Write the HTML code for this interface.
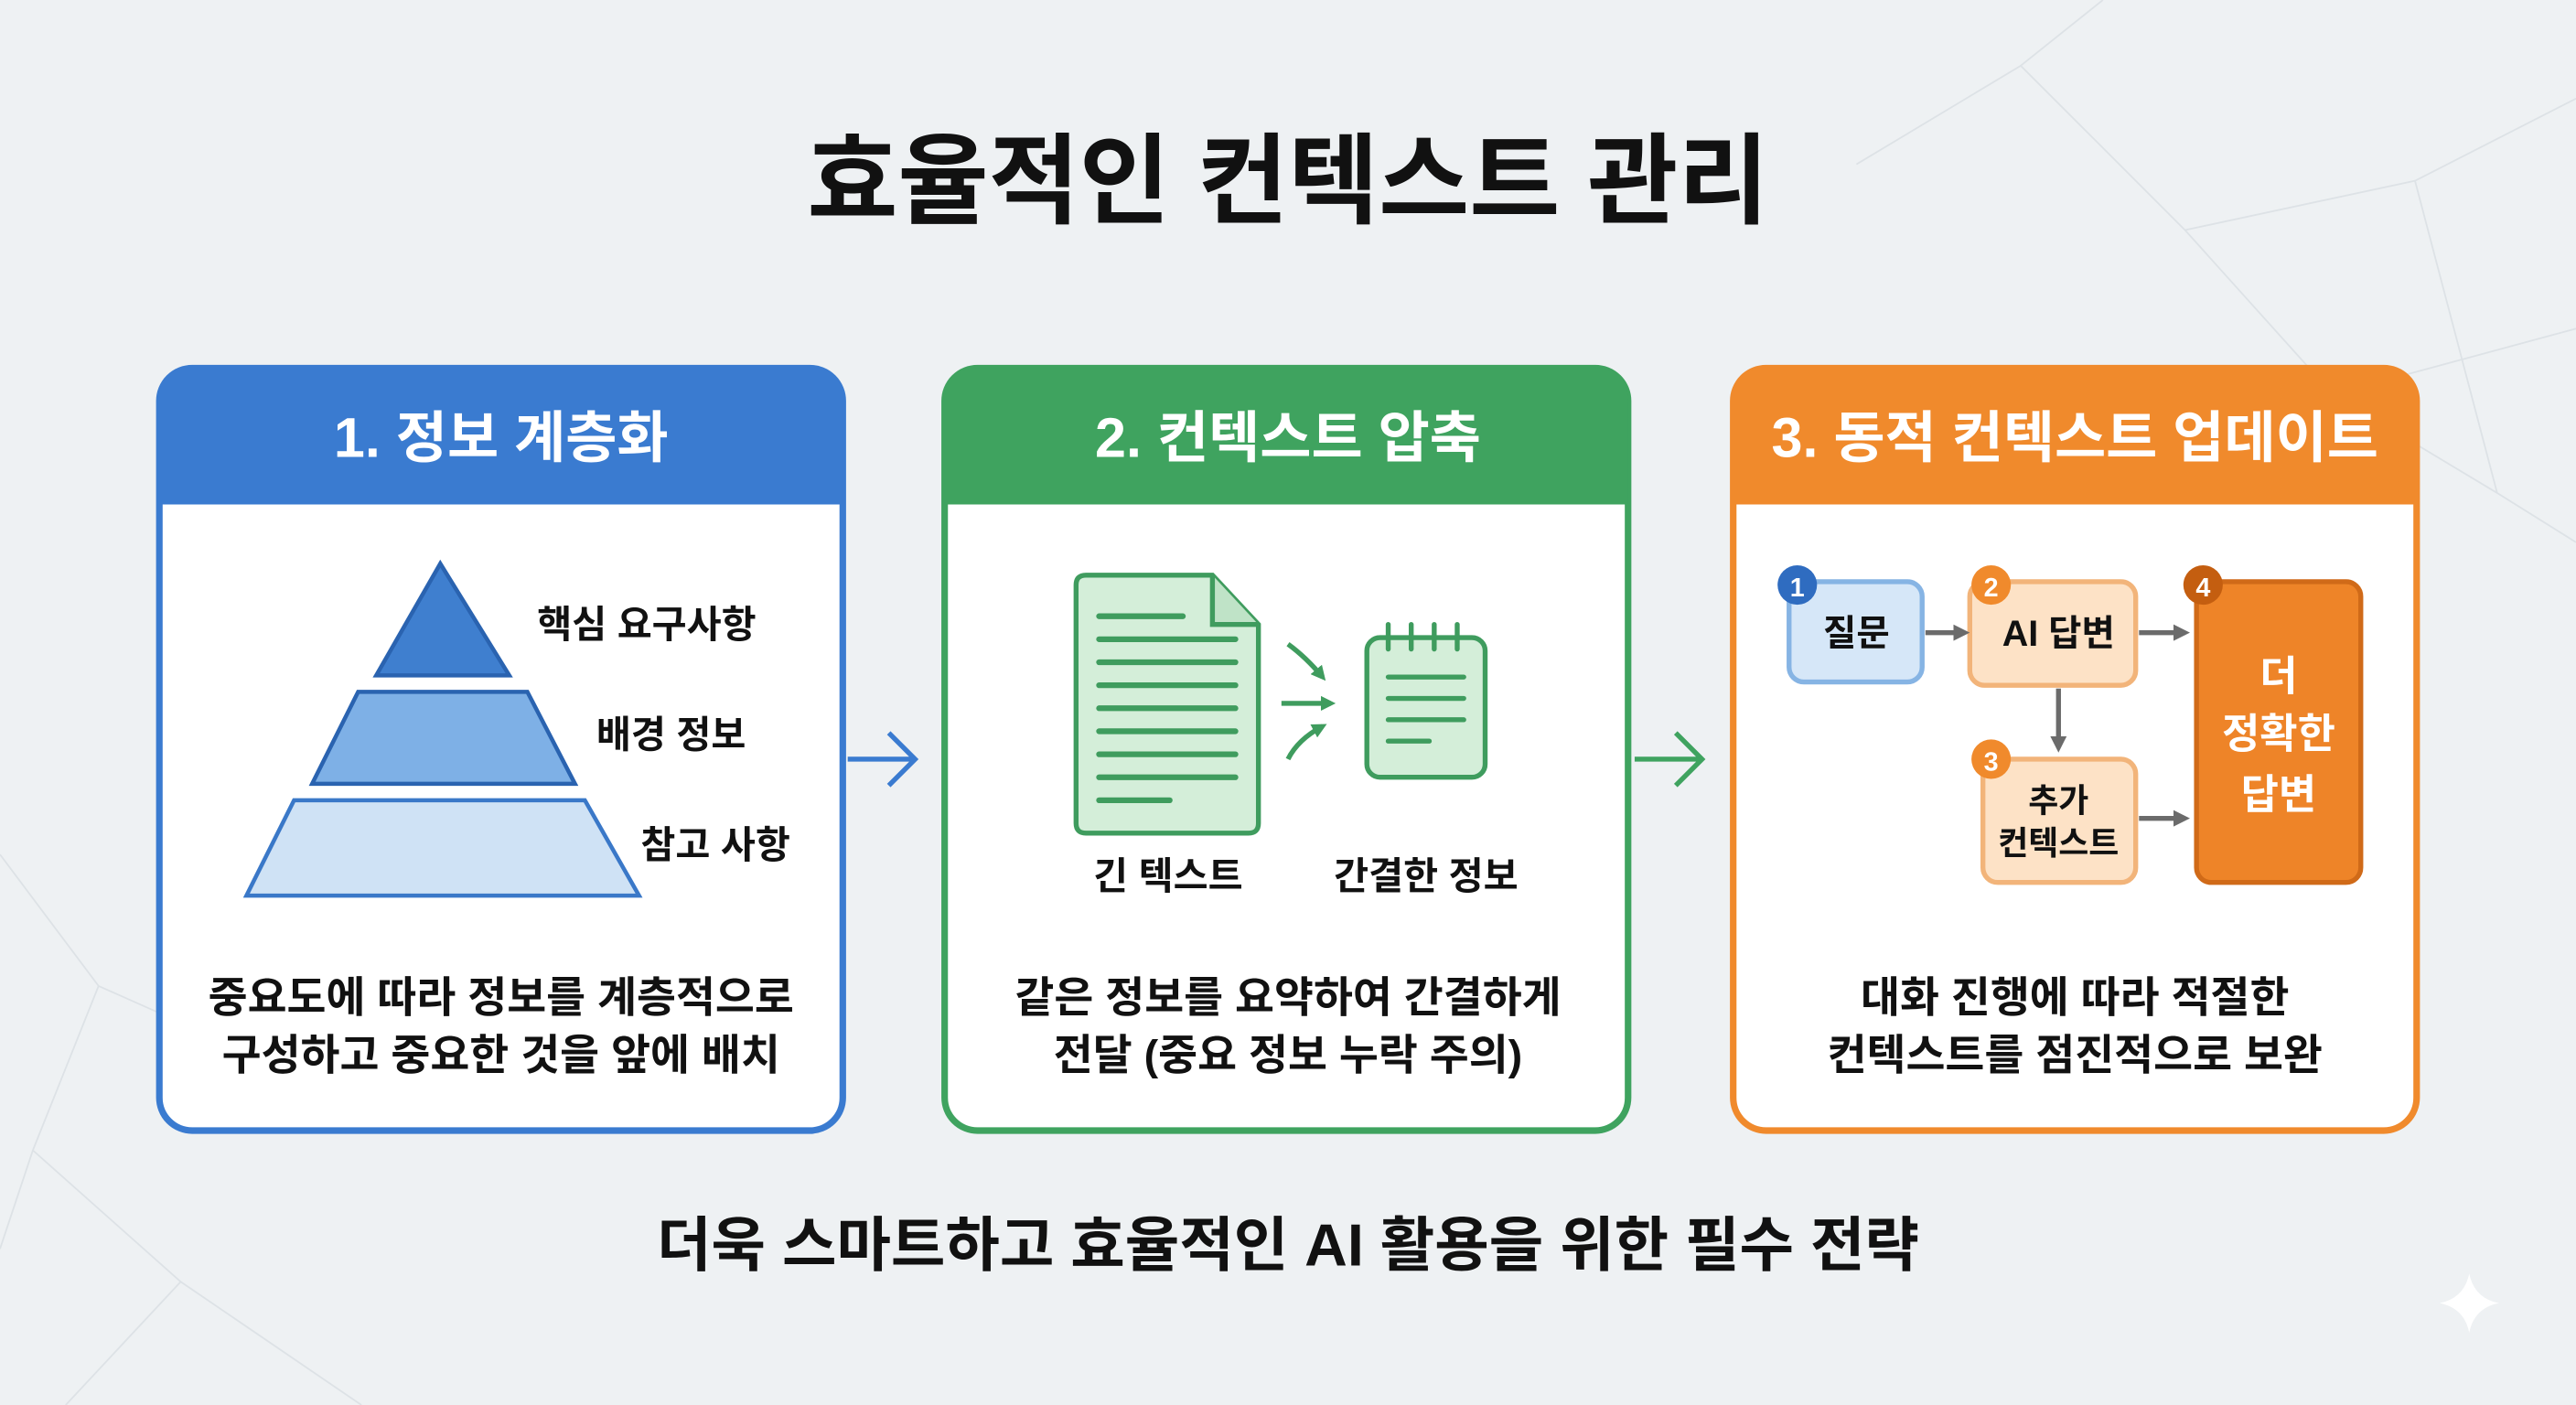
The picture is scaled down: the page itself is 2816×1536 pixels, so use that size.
<!DOCTYPE html>
<html><head><meta charset="utf-8"><style>
html,body{margin:0;padding:0;background:#eef1f3;}
svg{display:block;}
text{font-family:"Liberation Sans","Noto Sans CJK KR",sans-serif;font-weight:bold;}
</style></head><body>
<svg width="2816" height="1536" viewBox="0 0 1568 855" preserveAspectRatio="none" xmlns="http://www.w3.org/2000/svg">
<defs>
<marker id="ag" markerWidth="10" markerHeight="10" refX="7" refY="5" orient="auto" markerUnits="userSpaceOnUse"><path d="M0,0 L10,5 L0,10 z" fill="#6b6b6b"/></marker>
<marker id="agr" markerWidth="9" markerHeight="9" refX="6" refY="4.5" orient="auto" markerUnits="userSpaceOnUse"><path d="M0,0 L9,4.5 L0,9 z" fill="#3f9c5e"/></marker>
</defs>
<rect width="1568" height="855" fill="#eef1f3"/>
<g stroke="#dde2e6" stroke-width="1" fill="none">
<path d="M1130,100 L1230,40 L1330,140 L1470,110 L1568,60 M1230,40 L1280,0 M1330,140 L1420,240 L1568,200 M1470,110 L1520,300 L1568,330 M1420,240 L1520,300"/>
<path d="M0,520 L60,600 L20,700 L110,780 L220,855 M60,600 L150,640 M20,700 L0,760 M110,780 L40,855"/>
</g>
<text x="784" y="131" text-anchor="middle" font-size="60" fill="#111">효율적인 컨텍스트 관리</text>

<!-- Card 1 -->
<rect x="97" y="224" width="416" height="464" rx="20" fill="#fff" stroke="#3a7bd0" stroke-width="4"/>
<path d="M97,307 L97,244 Q97,224 117,224 L493,224 Q513,224 513,244 L513,307 z" fill="#3a7bd0"/>
<text x="305" y="278" text-anchor="middle" font-size="34" fill="#fff">1. 정보 계층화</text>
<polygon points="268,343 310,411 229,411" fill="#3f7fcf" stroke="#2a63b0" stroke-width="2.5"/>
<polygon points="218,421 321,421 350,477 190,477" fill="#7eb0e6" stroke="#2a63b0" stroke-width="2.5"/>
<polygon points="179,487 356,487 389,545 150,545" fill="#cfe2f5" stroke="#3a78c8" stroke-width="2.5"/>
<text x="327" y="388" font-size="23" fill="#111">핵심 요구사항</text>
<text x="363" y="455" font-size="23" fill="#111">배경 정보</text>
<text x="390" y="522" font-size="23" fill="#111">참고 사항</text>
<text x="305" y="616" text-anchor="middle" font-size="26" fill="#111">중요도에 따라 정보를 계층적으로</text>
<text x="305" y="651" text-anchor="middle" font-size="26" fill="#111">구성하고 중요한 것을 앞에 배치</text>

<path d="M516,462 L556,462 M541,446 L557,462 L541,478" stroke="#3a7bd0" stroke-width="3" fill="none"/>

<!-- Card 2 -->
<rect x="575" y="224" width="416" height="464" rx="20" fill="#fff" stroke="#3fa35f" stroke-width="4"/>
<path d="M575,307 L575,244 Q575,224 595,224 L971,224 Q991,224 991,244 L991,307 z" fill="#3fa35f"/>
<text x="784" y="278" text-anchor="middle" font-size="34" fill="#fff">2. 컨텍스트 압축</text>
<path d="M661,350 L738,350 L766,380 L766,501 Q766,507 760,507 L661,507 Q655,507 655,501 L655,356 Q655,350 661,350 z" fill="#d4eed9" stroke="#3f9c5e" stroke-width="3"/>
<path d="M738,350 L738,380 L766,380" fill="#bfe3c7" stroke="#3f9c5e" stroke-width="3"/>
<g stroke="#3f9c5e" stroke-width="3.5" stroke-linecap="round">
<line x1="669" y1="375" x2="720" y2="375"/><line x1="669" y1="389" x2="752" y2="389"/><line x1="669" y1="403" x2="752" y2="403"/><line x1="669" y1="417" x2="752" y2="417"/><line x1="669" y1="431" x2="752" y2="431"/><line x1="669" y1="445" x2="752" y2="445"/><line x1="669" y1="459" x2="752" y2="459"/><line x1="669" y1="473" x2="752" y2="473"/><line x1="669" y1="487" x2="712" y2="487"/>
</g>
<rect x="832" y="388" width="72" height="85" rx="8" fill="#d4eed9" stroke="#3f9c5e" stroke-width="3"/>
<g stroke="#3f9c5e" stroke-width="3" stroke-linecap="round">
<line x1="845" y1="380" x2="845" y2="395"/><line x1="859" y1="380" x2="859" y2="395"/><line x1="873" y1="380" x2="873" y2="395"/><line x1="887" y1="380" x2="887" y2="395"/>
<line x1="845" y1="412" x2="891" y2="412"/><line x1="845" y1="425" x2="891" y2="425"/><line x1="845" y1="438" x2="891" y2="438"/><line x1="845" y1="451" x2="870" y2="451"/>
</g>
<g stroke="#3f9c5e" stroke-width="3" fill="none">
<path d="M784,392 Q795,400 805,412" marker-end="url(#agr)"/>
<path d="M780,428 L810,428" marker-end="url(#agr)"/>
<path d="M784,462 Q790,450 805,442" marker-end="url(#agr)"/>
</g>
<text x="711" y="541" text-anchor="middle" font-size="23" fill="#111">긴 텍스트</text>
<text x="868" y="541" text-anchor="middle" font-size="23" fill="#111">간결한 정보</text>
<text x="784" y="616" text-anchor="middle" font-size="26" fill="#111">같은 정보를 요약하여 간결하게</text>
<text x="784" y="651" text-anchor="middle" font-size="26" fill="#111">전달 (중요 정보 누락 주의)</text>

<path d="M995,462 L1035,462 M1020,446 L1036,462 L1020,478" stroke="#3fa35f" stroke-width="3" fill="none"/>

<!-- Card 3 -->
<rect x="1055" y="224" width="416" height="464" rx="20" fill="#fff" stroke="#f08a2c" stroke-width="4"/>
<path d="M1055,307 L1055,244 Q1055,224 1075,224 L1451,224 Q1471,224 1471,244 L1471,307 z" fill="#f08a2c"/>
<text x="1263" y="278" text-anchor="middle" font-size="34" fill="#fff">3. 동적 컨텍스트 업데이트</text>
<rect x="1089" y="354" width="81" height="61" rx="9" fill="#d6e7f8" stroke="#86b4e4" stroke-width="3"/>
<text x="1130" y="393" text-anchor="middle" font-size="22" fill="#111">질문</text>
<rect x="1199" y="354" width="101" height="63" rx="9" fill="#fde2c6" stroke="#f2b47a" stroke-width="3"/>
<text x="1253" y="393" text-anchor="middle" font-size="22" fill="#111">AI 답변</text>
<rect x="1207" y="462" width="93" height="75" rx="9" fill="#fde2c6" stroke="#f2b47a" stroke-width="3"/>
<text x="1253" y="494" text-anchor="middle" font-size="20" fill="#111">추가</text>
<text x="1253" y="520" text-anchor="middle" font-size="20" fill="#111">컨텍스트</text>
<rect x="1337" y="354" width="100" height="183" rx="9" fill="#ee8428" stroke="#d06a18" stroke-width="3"/>
<text x="1387" y="420" text-anchor="middle" font-size="25" fill="#fff">더</text>
<text x="1387" y="455" text-anchor="middle" font-size="25" fill="#fff">정확한</text>
<text x="1387" y="492" text-anchor="middle" font-size="25" fill="#fff">답변</text>
<g stroke="#6b6b6b" stroke-width="3">
<line x1="1172" y1="385" x2="1196" y2="385" marker-end="url(#ag)"/>
<line x1="1302" y1="385" x2="1330" y2="385" marker-end="url(#ag)"/>
<line x1="1253" y1="419" x2="1253" y2="455" marker-end="url(#ag)"/>
<line x1="1302" y1="498" x2="1330" y2="498" marker-end="url(#ag)"/>
</g>
<circle cx="1094" cy="356" r="12" fill="#2f6cc0"/><text x="1094" y="363" text-anchor="middle" font-size="16" fill="#fff">1</text>
<circle cx="1212" cy="356" r="12" fill="#f08a2c"/><text x="1212" y="363" text-anchor="middle" font-size="16" fill="#fff">2</text>
<circle cx="1212" cy="462" r="12" fill="#f08a2c"/><text x="1212" y="469" text-anchor="middle" font-size="16" fill="#fff">3</text>
<circle cx="1341" cy="356" r="12" fill="#c45e10"/><text x="1341" y="363" text-anchor="middle" font-size="16" fill="#fff">4</text>
<text x="1263" y="616" text-anchor="middle" font-size="26" fill="#111">대화 진행에 따라 적절한</text>
<text x="1263" y="651" text-anchor="middle" font-size="26" fill="#111">컨텍스트를 점진적으로 보완</text>

<text x="784" y="770" text-anchor="middle" font-size="36" fill="#111">더욱 스마트하고 효율적인 AI 활용을 위한 필수 전략</text>
<path d="M1503,775 Q1506,790 1521,793 Q1506,796 1503,811 Q1500,796 1485,793 Q1500,790 1503,775 z" fill="#fff"/>
</svg>
</body></html>
